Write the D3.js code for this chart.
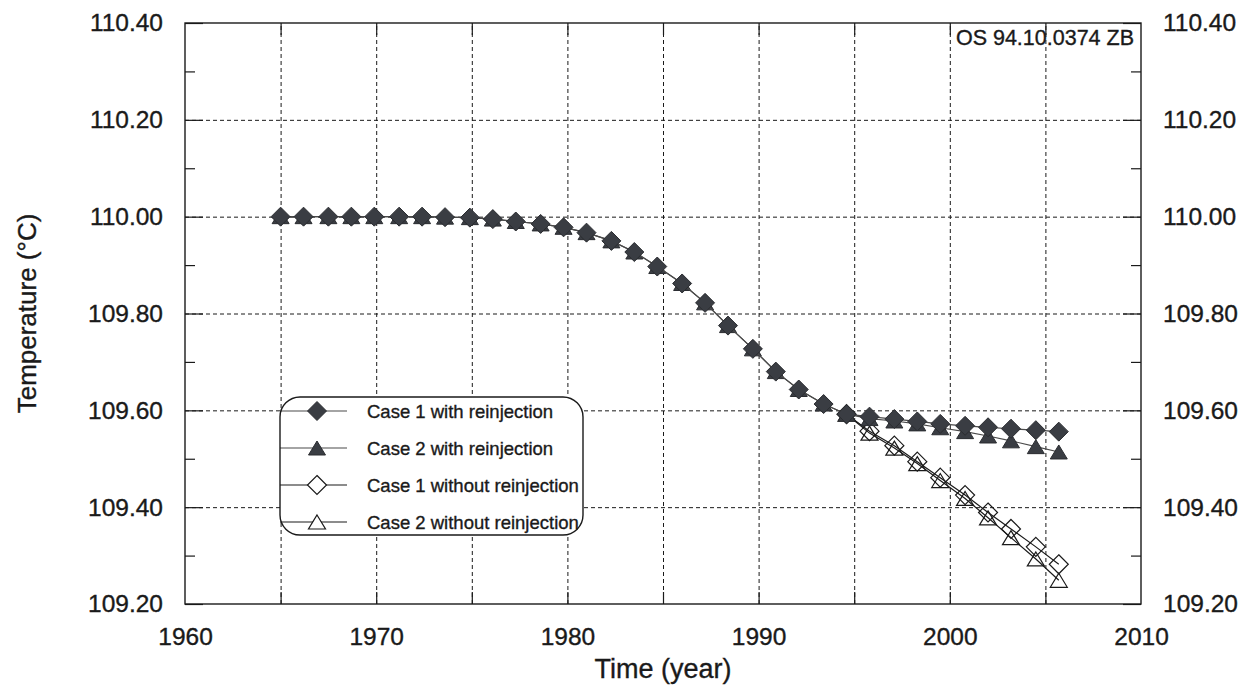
<!DOCTYPE html>
<html>
<head>
<meta charset="utf-8">
<script src="https://cdn.jsdelivr.net/npm/d3@7"></script>
<style>
  html, body { margin: 0; padding: 0; background: #fff; }
  svg { display: block; font-family: "Liberation Sans", Arial, sans-serif; }
  text { stroke: #1a1a1a; stroke-width: 0.35px; }
</style>
</head>
<body>
<svg id="chart" width="1248" height="685"></svg>
<script>
// Simulated reservoir temperature, 1965-2006
const years = [1965.0, 1966.2, 1967.5, 1968.7, 1969.9, 1971.2, 1972.4, 1973.6, 1974.9, 1976.1,
               1977.3, 1978.6, 1979.8, 1981.0, 1982.3, 1983.5, 1984.7, 1986.0, 1987.2, 1988.4,
               1989.7, 1990.9, 1992.1, 1993.4, 1994.6, 1995.8, 1997.1, 1998.3, 1999.5, 2000.8,
               2002.0, 2003.2, 2004.5, 2005.7];
const case1With = [110.000, 110.000, 110.000, 110.000, 110.000, 110.000, 110.000, 109.999, 109.998, 109.995,
                   109.990, 109.985, 109.978, 109.967, 109.950, 109.927, 109.897, 109.862, 109.822, 109.775,
                   109.727, 109.680, 109.643, 109.613, 109.592, 109.587, 109.582, 109.577, 109.572, 109.568,
                   109.565, 109.562, 109.559, 109.556];
const case2With = [110.000, 110.000, 110.000, 110.000, 110.000, 110.000, 110.000, 109.999, 109.998, 109.995,
                   109.990, 109.985, 109.978, 109.967, 109.950, 109.927, 109.897, 109.862, 109.822, 109.775,
                   109.727, 109.680, 109.643, 109.613, 109.592, 109.583, 109.578, 109.572, 109.564, 109.556,
                   109.547, 109.537, 109.525, 109.514];
// Runs without reinjection split off in the mid-1990s
const yearsWithout = [1994.6, 1995.8, 1997.1, 1998.3, 1999.5, 2000.8, 2002.0, 2003.2, 2004.5, 2005.7];
const case1Without = [109.592, 109.557, 109.527, 109.494, 109.461, 109.425, 109.389, 109.355, 109.318, 109.282];
const case2Without = [109.592, 109.553, 109.522, 109.490, 109.455, 109.418, 109.378, 109.337, 109.293, 109.249];

const xLabelTicks = [1960, 1970, 1980, 1990, 2000, 2010];
const xGridTicks = [1965, 1970, 1975, 1980, 1985, 1990, 1995, 2000, 2005];
const yMajorTicks = [109.2, 109.4, 109.6, 109.8, 110.0, 110.2, 110.4];
const yMinorTicks = [109.3, 109.5, 109.7, 109.9, 110.1, 110.3];
const legendLabels = ["Case 1 with reinjection", "Case 2 with reinjection",
                      "Case 1 without reinjection", "Case 2 without reinjection"];
const stampText = "OS 94.10.0374 ZB";

const svg = d3.select("#chart");
const L = 185, R = 1141, T = 23, B = 604;
const x = d3.scaleLinear().domain([1960, 2010]).range([L, R]);
const y = d3.scaleLinear().domain([109.2, 110.4]).range([B, T]);

const ink = "#1a1a1a";
const fillDark = "#3a3d43";
const lineGray = "#4a4a4a";

// Dashed grid
const grid = svg.append("g");
grid.append("g")
  .attr("transform", `translate(0,${B})`)
  .call(d3.axisBottom(x).tickValues(xGridTicks).tickSize(-(B - T)).tickFormat(""))
  .call(g => g.select(".domain").remove())
  .call(g => g.selectAll("line").attr("stroke", ink).attr("stroke-width", 1).attr("stroke-dasharray", "4,3"));
grid.append("g")
  .attr("transform", `translate(${L},0)`)
  .call(d3.axisLeft(y).tickValues(yMajorTicks.slice(1, -1)).tickSize(-(R - L)).tickFormat(""))
  .call(g => g.select(".domain").remove())
  .call(g => g.selectAll("line").attr("stroke", ink).attr("stroke-width", 1).attr("stroke-dasharray", "4,3"));

// Inner tick marks on all four sides
function innerTicks(axis, tx, ty, values, size) {
  svg.append("g")
    .attr("transform", `translate(${tx},${ty})`)
    .call(axis.tickValues(values).tickSize(size).tickFormat(""))
    .call(g => g.select(".domain").remove())
    .call(g => g.selectAll("line").attr("stroke", ink).attr("stroke-width", 1.2));
}
innerTicks(d3.axisRight(y), L, 0, yMajorTicks, 18);
innerTicks(d3.axisRight(y), L, 0, yMinorTicks, 10);
innerTicks(d3.axisLeft(y), R, 0, yMajorTicks, 18);
innerTicks(d3.axisLeft(y), R, 0, yMinorTicks, 10);
innerTicks(d3.axisTop(x), 0, B, xGridTicks, 12);
innerTicks(d3.axisBottom(x), 0, T, xGridTicks, 12);

// Tick labels
const fmt = d3.format(".2f");
function labelAxis(axis, tx, ty) {
  svg.append("g")
    .attr("transform", `translate(${tx},${ty})`)
    .call(axis)
    .call(g => g.select(".domain").remove())
    .call(g => g.selectAll("line").remove())
    .call(g => g.selectAll("text").attr("font-size", 24.5).attr("fill", ink)
                 .attr("font-family", "Liberation Sans, Arial, sans-serif"));
}
labelAxis(d3.axisLeft(y).tickValues(yMajorTicks).tickFormat(fmt).tickSize(0).tickPadding(22), L, 0);
labelAxis(d3.axisRight(y).tickValues(yMajorTicks).tickFormat(fmt).tickSize(0).tickPadding(22), R, 0);
labelAxis(d3.axisBottom(x).tickValues(xLabelTicks).tickFormat(d3.format("d")).tickSize(0).tickPadding(24), 0, B);

// Axis titles
svg.append("text")
  .attr("x", (L + R) / 2).attr("y", 678)
  .attr("text-anchor", "middle").attr("font-size", 27).attr("fill", ink)
  .text("Time (year)");
svg.append("text")
  .attr("transform", `translate(36,${(T + B) / 2}) rotate(-90)`)
  .attr("text-anchor", "middle").attr("font-size", 26).attr("fill", ink)
  .text("Temperature (°C)");

// Marker shapes: square diamond and bbox-centred triangle
function diamondPath(r) {
  return `M0,${-r}L${r},0L0,${r}L${-r},0Z`;
}
function triPath(w, h) {
  return `M0,${-h / 2}L${w / 2},${h / 2}L${-w / 2},${h / 2}Z`;
}
const dia = diamondPath(9.5);
const tri = triPath(17, 14);

const line = d3.line().x(d => x(d[0])).y(d => y(d[1]));

function drawSeries(xs, ys, shape, filled) {
  const pts = xs.map((t, i) => [t, ys[i]]);
  const g = svg.append("g");
  g.append("path").datum(pts).attr("d", line)
    .attr("fill", "none").attr("stroke", filled ? lineGray : ink).attr("stroke-width", 1.2);
  g.selectAll("path.m").data(pts).join("path").attr("class", "m")
    .attr("transform", d => `translate(${x(d[0])},${y(d[1])})`)
    .attr("d", shape === "diamond" ? dia : tri)
    .attr("fill", filled ? fillDark : "none")
    .attr("stroke", filled ? "#2a2c30" : ink)
    .attr("stroke-width", filled ? 1 : 1.2);
}
drawSeries(yearsWithout, case2Without, "triangle", false);
drawSeries(yearsWithout, case1Without, "diamond", false);
drawSeries(years, case2With, "triangle", true);
drawSeries(years, case1With, "diamond", true);

// Frame
svg.append("rect").attr("x", L).attr("y", T).attr("width", R - L).attr("height", B - T)
  .attr("fill", "none").attr("stroke", ink).attr("stroke-width", 1.4);

// Stamp in the upper right corner
svg.append("text").attr("x", R - 7).attr("y", 45)
  .attr("text-anchor", "end").attr("font-size", 21.5).attr("fill", ink)
  .text(stampText);

// Legend
const lg = svg.append("g");
const lx0 = 280, lx1 = 583, ly0 = 397, ly1 = 535;
lg.append("rect").attr("x", lx0).attr("y", ly0).attr("width", lx1 - lx0).attr("height", ly1 - ly0)
  .attr("rx", 20).attr("ry", 20).attr("fill", "#fff").attr("stroke", "none");
const rowY = [411, 448, 485, 522];
const legendShapes = [["diamond", true], ["triangle", true], ["diamond", false], ["triangle", false]];
legendLabels.forEach((lab, i) => {
  const [shape, filled] = legendShapes[i];
  lg.append("line").attr("x1", lx0).attr("x2", 347).attr("y1", rowY[i]).attr("y2", rowY[i])
    .attr("stroke", filled ? lineGray : ink).attr("stroke-width", 1.2);
  lg.append("path").attr("transform", `translate(317,${rowY[i]})`)
    .attr("d", shape === "diamond" ? dia : tri)
    .attr("fill", filled ? fillDark : "#fff")
    .attr("stroke", filled ? "#2a2c30" : ink).attr("stroke-width", filled ? 1 : 1.2);
  lg.append("text").attr("x", 367).attr("y", rowY[i] + 6.5)
    .attr("font-size", 18.5).attr("fill", ink).text(lab);
});
lg.append("rect").attr("x", lx0).attr("y", ly0).attr("width", lx1 - lx0).attr("height", ly1 - ly0)
  .attr("rx", 20).attr("ry", 20).attr("fill", "none").attr("stroke", ink).attr("stroke-width", 1.4);
</script>
</body>
</html>
